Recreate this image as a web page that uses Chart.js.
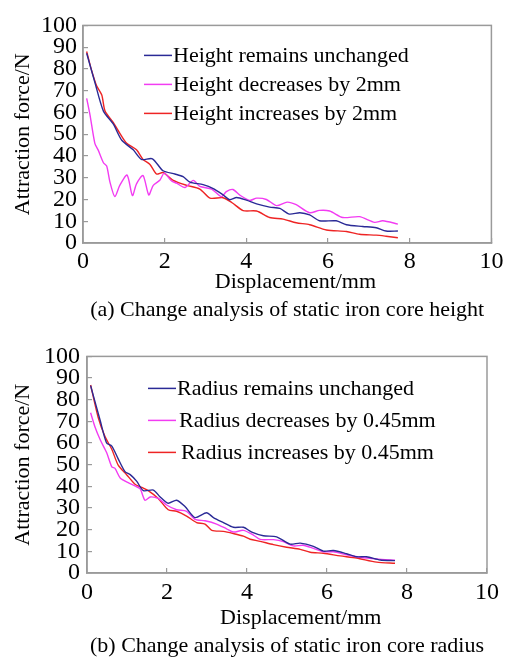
<!DOCTYPE html>
<html>
<head>
<meta charset="utf-8">
<script src="https://cdn.jsdelivr.net/npm/chart.js@4.4.1/dist/chart.umd.min.js"></script>
<style>
  body { margin: 0; background: #fff; }
  canvas { display: block; }
</style>
</head>
<body>
<canvas id="chart-a" width="513" height="330"></canvas>
<canvas id="chart-b" width="513" height="330"></canvas>
<script>
// (a) static iron core height
const hSameX = [0.09, 0.29, 0.5, 0.74, 0.95, 1.23, 1.43, 1.7, 1.96, 2.25, 2.45, 2.62, 2.94, 3.19, 3.43, 3.59, 3.76, 4.0, 4.25, 4.57, 4.82, 5.05, 5.31, 5.55, 5.79, 6.2, 6.45, 6.85, 7.18, 7.42, 7.71]
const hSameY = [87.2, 73.9, 60.6, 54.7, 47.2, 42.8, 38.4, 38.7, 33.2, 31.7, 30.5, 28.0, 26.8, 25.0, 22.1, 19.9, 20.9, 19.7, 18.0, 16.5, 15.9, 13.3, 13.9, 12.9, 10.2, 10.2, 8.4, 7.6, 7.0, 5.5, 5.5]
const hDownX = [0.09, 0.17, 0.29, 0.37, 0.5, 0.58, 0.66, 0.78, 0.9, 1.08, 1.21, 1.31, 1.47, 1.61, 1.72, 1.88, 1.99, 2.17, 2.29, 2.5, 2.7, 2.86, 3.15, 3.39, 3.51, 3.67, 3.84, 4.08, 4.25, 4.49, 4.74, 5.0, 5.22, 5.55, 5.79, 6.04, 6.36, 6.77, 7.14, 7.34, 7.71]
const hDownY = [66.5, 59, 45.8, 42.8, 36.9, 35.4, 28, 21.3, 26.5, 31.2, 21.8, 27.2, 31, 22.1, 26.5, 28.8, 32.1, 28.5, 27.5, 25.5, 28.8, 26, 24.8, 21.3, 23.6, 24.6, 22, 19.6, 20.6, 20, 17.2, 18.8, 17.6, 13.9, 15.0, 14.7, 11.7, 12.1, 9.5, 10.2, 8.7]
const hUpX = [0.09, 0.2, 0.33, 0.46, 0.54, 0.74, 0.86, 1.07, 1.31, 1.47, 1.64, 1.8, 1.96, 2.21, 2.54, 2.86, 3.11, 3.43, 3.65, 3.92, 4.25, 4.57, 4.9, 5.22, 5.55, 5.96, 6.45, 6.77, 7.18, 7.42, 7.71]
const hUpY = [88, 80, 72.4, 68, 60.6, 55.4, 51.7, 45.8, 42.8, 38.4, 36.1, 31.7, 32.4, 28.8, 26.5, 24.8, 20.6, 20.8, 18.5, 14.9, 14.7, 11.7, 11.0, 9.3, 8.4, 6.0, 5.3, 4.0, 3.6, 3.1, 2.4]

// (b) static iron core radius
const rSameX = [0.09, 0.33, 0.49, 0.62, 0.78, 0.95, 1.08, 1.24, 1.41, 1.66, 1.83, 2.03, 2.24, 2.45, 2.7, 2.99, 3.16, 3.41, 3.66, 3.91, 4.12, 4.41, 4.74, 5.08, 5.33, 5.66, 5.91, 6.16, 6.49, 6.74, 6.99, 7.33, 7.7]
const rSameY = [86.5, 70.4, 60, 58.6, 52.7, 46.8, 45.4, 42.4, 38, 38.3, 35.1, 32.2, 33.6, 30.7, 25.6, 27.8, 25.6, 23.3, 21.1, 21.1, 18.9, 17.2, 16.7, 13.3, 13.8, 12.3, 10.1, 10.4, 8.9, 7.5, 7.5, 6.0, 5.7]
const rDownX = [0.09, 0.2, 0.33, 0.49, 0.62, 0.7, 0.83, 1.03, 1.2, 1.33, 1.45, 1.58, 1.78, 1.99, 2.24, 2.49, 2.7, 2.95, 3.24, 3.49, 3.66, 3.91, 4.16, 4.33, 4.66, 4.91, 5.16, 5.4, 5.66, 5.91, 6.16, 6.49, 6.83, 7.24, 7.7]
const rDownY = [74, 67.4, 61.5, 55.6, 49, 48.3, 43.9, 41.7, 40.2, 38.8, 33.6, 35.1, 34.4, 31.4, 29.2, 28.5, 24.8, 24.1, 22.6, 20.4, 18.9, 19.7, 17.5, 15.5, 15.4, 14.5, 12.5, 12.8, 11.4, 9.8, 9.8, 8.4, 7.3, 6.5, 5.9]
const rUpX = [0.09, 0.28, 0.45, 0.62, 0.78, 0.99, 1.2, 1.37, 1.53, 1.78, 2.03, 2.24, 2.49, 2.74, 2.95, 3.12, 3.41, 3.66, 3.91, 4.08, 4.33, 4.66, 4.99, 5.33, 5.58, 5.91, 6.33, 6.74, 7.24, 7.7]
const rUpY = [86.8, 71.8, 63, 57.1, 49.8, 45.4, 41, 39.5, 38, 34.4, 29.2, 28.5, 26.3, 23.3, 22.6, 19.7, 19.2, 18.2, 17.0, 15.6, 14.6, 13.1, 11.9, 10.9, 9.6, 9.1, 7.9, 6.9, 5.0, 4.5]

const heightLabels = ['Height remains unchanged', 'Height decreases by 2mm', 'Height increases by 2mm']
const radiusLabels = ['Radius remains unchanged', 'Radius decreases by 0.45mm', 'Radius increases by 0.45mm']
const colors = ['#2a2a96', '#f23cf2', '#ee2424']

Chart.defaults.font.family = '"Liberation Serif", "Times New Roman", serif'
Chart.defaults.color = '#000'

const toPoints = (xs, ys) => xs.map((x, i) => ({x: x, y: ys[i]}))

// legend drawn inside the plot, line sample + text
const insideLegend = {
  id: 'insideLegend',
  afterDraw: (chart, args, opts) => {
    const {ctx, chartArea} = chart
    ctx.save()
    ctx.font = '22px "Liberation Serif"'
    ctx.textBaseline = 'middle'
    ctx.fillStyle = '#000'
    chart.data.datasets.forEach((ds, i) => {
      const x = chartArea.left + opts.left,
            y = chartArea.top + opts.top + i * opts.gap
      ctx.strokeStyle = ds.borderColor
      ctx.lineWidth = 1.5
      ctx.beginPath()
      ctx.moveTo(x, y)
      ctx.lineTo(x + 28, y)
      ctx.stroke()
      ctx.fillText(ds.label, x + 29 + (opts.shift ? opts.shift[i] : 0), y + 1)
    })
    ctx.restore()
  }
}

const frame = {
  id: 'frame',
  beforeDatasetsDraw: (chart) => {
    const {ctx, chartArea} = chart
    ctx.save()
    ctx.strokeStyle = '#9a9a9a'
    ctx.lineWidth = 1.5
    ctx.strokeRect(chartArea.left, chartArea.top, chartArea.right - chartArea.left, chartArea.bottom - chartArea.top)
    ctx.restore()
  }
}

const makeChart = (id, series, labels, caption, box) => {
  return new Chart(document.getElementById(id), {
    type: 'scatter',
    data: {
      datasets: series.map((s, i) => ({
        label: labels[i],
        data: toPoints(s[0], s[1]),
        showLine: true,
        borderColor: colors[i],
        borderWidth: 1.4,
        pointRadius: 0,
        tension: 0.25
      }))
    },
    options: {
      responsive: false,
      animation: false,
      devicePixelRatio: 1,
      layout: {padding: {left: 0, right: box.right, top: box.top, bottom: 0}},
      scales: {
        x: {
          type: 'linear', min: 0, max: 10,
          afterFit: (s) => { s.height = box.xHeight },
          grid: {drawOnChartArea: false, tickLength: -5, color: '#9a9a9a', lineWidth: 1.2},
          border: {color: '#9a9a9a', width: 1.5},
          ticks: {stepSize: 2, autoSkip: false, padding: box.xPad, font: {size: 24}},
          title: {display: true, text: box.xTitle, font: {size: 22}, padding: 0}
        },
        y: {
          min: 0, max: 100,
          afterFit: (s) => { s.width = box.left },
          grid: {drawOnChartArea: false, tickLength: -5, color: '#9a9a9a', lineWidth: 1.2},
          border: {color: '#9a9a9a', width: 1.5},
          ticks: {stepSize: 10, autoSkip: false, padding: box.yPad, font: {size: 24}},
          title: {display: true, text: 'Attraction force/N', font: {size: 22}, padding: {top: 10, bottom: 0}}
        }
      },
      plugins: {
        legend: {display: false},
        tooltip: {enabled: false},
        title: {
          display: true, position: 'bottom', fullSize: false, text: caption,
          font: {size: 22, weight: 'normal'},
          padding: {top: box.capTop, bottom: box.capBottom}
        },
        insideLegend: box.legend
      }
    },
    plugins: [frame, insideLegend]
  })
}

makeChart('chart-a', [[hSameX, hSameY], [hDownX, hDownY], [hUpX, hUpY]], heightLabels,
  '(a) Change analysis of static iron core height',
  {left: 83, right: 21, top: 18, xHeight: 52, xPad: 9.6, yPad: 11, capTop: 2, capBottom: 6.6,
   xTitle: '   Displacement/mm', legend: {left: 61, top: 30, gap: 29}})

makeChart('chart-b', [[rSameX, rSameY], [rDownX, rDownY], [rUpX, rUpY]], radiusLabels,
  '(b) Change analysis of static iron core radius',
  {left: 87, right: 26, top: 16, xHeight: 58, xPad: 10.6, yPad: 12, capTop: 2.3, capBottom: 0.3,
   xTitle: '     Displacement/mm', legend: {left: 61, top: 32, gap: 32, shift: [0, 2, 4]}})
</script>
</body>
</html>
